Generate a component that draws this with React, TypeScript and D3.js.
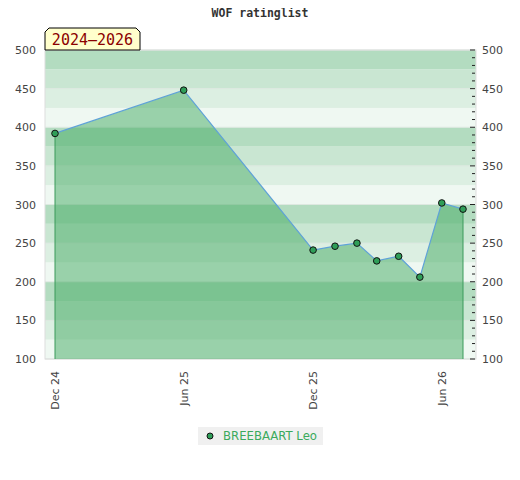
import React from "react";
import * as d3 from "d3";

const title = "WOF ratinglist";
const periodLabel = "2024–2026";
const playerName = "BREEBAART Leo";

const ratingDates = [
  "2024-12-01",
  "2025-06-01",
  "2025-12-01",
  "2026-01-01",
  "2026-02-01",
  "2026-03-01",
  "2026-04-01",
  "2026-05-01",
  "2026-06-01",
  "2026-07-01",
];
const ratings = [392, 448, 241, 246, 250, 227, 233, 206, 302, 294];

const xTickDates = ["2024-12-01", "2025-06-01", "2025-12-01", "2026-06-01"];
const yTicks = [100, 150, 200, 250, 300, 350, 400, 450, 500];

const bandShades = ["#eff8f2", "#dcefe2", "#c9e6d2", "#b3dcc0"];

const width = 520;
const height = 480;
const left = 45;
const right = 476;
const top = 50;
const bottom = 359;

export default function App() {
  const parse = d3.timeParse("%Y-%m-%d");
  const points = ratingDates.map((d, i) => ({ date: parse(d) as Date, value: ratings[i] }));

  const x = d3
    .scaleTime()
    .domain([parse("2024-12-01") as Date, parse("2026-07-01") as Date])
    .range([55, 463]);
  const y = d3.scaleLinear().domain([100, 500]).range([bottom, top]);

  const area = d3
    .area<{ date: Date; value: number }>()
    .x((d) => x(d.date))
    .y0(y(100))
    .y1((d) => y(d.value));
  const line = d3
    .line<{ date: Date; value: number }>()
    .x((d) => x(d.date))
    .y((d) => y(d.value));

  const bands = d3.range(100, 500, 25);
  const minorTicks = d3.range(100, 501, 10);
  const fmt = d3.timeFormat("%b %y");

  const first = points[0];
  const last = points[points.length - 1];

  return (
    <svg width={width} height={height} style={{ display: "block", margin: -8 }}>
      <rect width={width} height={height} fill="#fff" />
      <text
        x={260}
        y={17}
        textAnchor="middle"
        fontFamily="DejaVu Sans Mono"
        fontWeight="bold"
        fontSize={11.5}
        fill="#333"
      >
        {title}
      </text>

      {bands.map((v) => (
        <rect
          key={v}
          x={left}
          y={y(v + 25)}
          width={right - left}
          height={y(v) - y(v + 25)}
          fill={bandShades[(v % 100) / 25]}
        />
      ))}
      {yTicks.map((v) => (
        <line key={v} x1={left} x2={right} y1={y(v)} y2={y(v)} stroke="#dde8e0" strokeWidth={1} />
      ))}
      <rect x={left} y={top} width={right - left} height={bottom - top} fill="none" stroke="#ddd" />

      <path d={area(points) ?? ""} fill="rgb(67,170,98)" fillOpacity={0.5} />
      <line x1={x(first.date)} x2={x(first.date)} y1={y(first.value)} y2={bottom} stroke="#3a9a5a" />
      <line x1={x(last.date)} x2={x(last.date)} y1={y(last.value)} y2={bottom} stroke="#3a9a5a" />
      <path d={line(points) ?? ""} fill="none" stroke="#5fa2d8" strokeWidth={1.2} />
      {points.map((p, i) => (
        <circle key={i} cx={x(p.date)} cy={y(p.value)} r={3.3} fill="#2f9e58" stroke="#111" strokeWidth={1} />
      ))}

      {minorTicks.map((v) => (
        <line
          key={v}
          x1={v % 50 === 0 ? right - 6 : right - 4}
          x2={right - 1}
          y1={y(v)}
          y2={y(v)}
          stroke="#222"
          strokeWidth={1}
        />
      ))}

      {yTicks.map((v) => (
        <g key={v} fontFamily="DejaVu Sans" fontSize={11} fill="#444">
          <text x={36} y={y(v) + 4} textAnchor="end">
            {v}
          </text>
          <text x={482} y={y(v) + 4} textAnchor="start">
            {v}
          </text>
        </g>
      ))}

      {xTickDates.map((d) => {
        const px = x(parse(d) as Date);
        return (
          <text
            key={d}
            transform={`translate(${px + 4},371) rotate(-90)`}
            textAnchor="end"
            fontFamily="DejaVu Sans"
            fontSize={11}
            fill="#444"
          >
            {fmt(parse(d) as Date)}
          </text>
        );
      })}

      <path
        d={`M${left},50 L${left},32 L${left + 4},28 L136,28 L140,32 L140,50 Z`}
        fill="#ffffcc"
        stroke="#000"
        strokeWidth={1}
      />
      <text x={92.5} y={45} textAnchor="middle" fontFamily="DejaVu Sans Mono" fontSize={15} fill="#8b0000">
        {periodLabel}
      </text>

      <rect x={198} y={427} width={125} height={18} fill="#f0f0f0" />
      <circle cx={210} cy={436} r={3} fill="#2f9e58" stroke="#111" strokeWidth={1} />
      <text x={223} y={440} fontFamily="DejaVu Sans" fontSize={11.7} fill="#3aaa5c">
        {playerName}
      </text>
    </svg>
  );
}
